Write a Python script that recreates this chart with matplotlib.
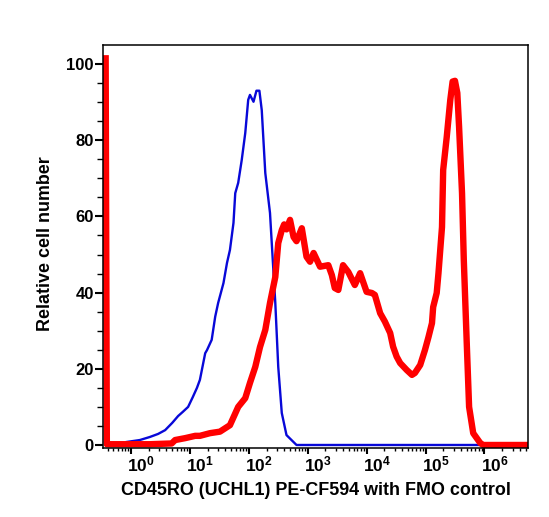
import numpy as np
import matplotlib
matplotlib.use("Agg")
import matplotlib.pyplot as plt
from matplotlib.ticker import LogLocator, FixedLocator, NullFormatter
from matplotlib.transforms import ScaledTranslation

plt.rcParams['font.family'] = ['Liberation Sans', 'DejaVu Sans']
plt.rcParams['font.weight'] = 'bold'
plt.rcParams['mathtext.fontset'] = 'custom'
plt.rcParams['mathtext.rm'] = 'Liberation Sans'
plt.rcParams['mathtext.bf'] = 'Liberation Sans:bold'

# FMO control (blue), log10 of fluorescence and relative cell number
fmo_log = [-0.07, 0.15, 0.32, 0.46, 0.58, 0.70, 0.80, 0.88, 0.97, 1.05, 1.12, 1.17,
           1.26, 1.29, 1.37, 1.43, 1.48, 1.57, 1.63, 1.68, 1.74, 1.77, 1.82, 1.88,
           1.94, 1.99, 2.02, 2.08, 2.13, 2.18, 2.22, 2.28, 2.36, 2.39, 2.45, 2.50,
           2.56, 2.64, 2.81, 6.80]
fmo_count = [0.8, 1.3, 2.1, 2.9, 3.9, 5.8, 7.6, 8.7, 10.0, 12.6, 15.0, 17.1,
             24.1, 24.9, 27.6, 33.7, 37.3, 42.5, 47.8, 51.2, 58.3, 66.1, 68.8, 74.8,
             81.9, 90.6, 91.9, 90.1, 93.0, 93.0, 87.9, 71.4, 60.9, 53.0, 37.3, 20.5,
             8.4, 2.6, 0.0, 0.0]

# CD45RO stained sample (red)
cd45_log = [-0.43, -0.41, 0.00, 0.32, 0.69, 0.75, 0.92, 1.09, 1.17, 1.34, 1.51, 1.68,
            1.82, 1.94, 2.02, 2.11, 2.19, 2.28, 2.36, 2.45, 2.50, 2.56, 2.60, 2.64,
            2.70, 2.76, 2.81, 2.90, 2.98, 3.04, 3.10, 3.21, 3.35, 3.41, 3.46, 3.52,
            3.60, 3.69, 3.80, 3.89, 4.00, 4.09, 4.14, 4.23, 4.31, 4.40, 4.45, 4.51,
            4.57, 4.68, 4.77, 4.82, 4.91, 4.99, 5.05, 5.11, 5.13, 5.19, 5.22, 5.28,
            5.30, 5.36, 5.42, 5.46, 5.50, 5.54, 5.57, 5.62, 5.65, 5.70, 5.74, 5.81,
            5.93, 5.98, 6.80]
cd45_count = [101.5, 0.2, 0.2, 0.2, 0.4, 1.3, 1.8, 2.4, 2.4, 3.1, 3.5, 5.2,
              10.0, 12.3, 16.3, 20.5, 25.7, 30.2, 37.3, 44.1, 53.0, 56.4, 57.9, 56.6,
              59.1, 54.6, 53.5, 56.9, 49.4, 48.1, 50.4, 46.8, 47.2, 44.6, 41.2, 40.7,
              47.2, 45.4, 42.0, 45.1, 40.2, 39.9, 39.4, 34.6, 32.4, 29.4, 25.8, 23.2,
              21.5, 19.7, 18.4, 18.9, 21.0, 24.9, 28.3, 32.0, 36.2, 39.9, 45.1, 57.2,
              72.2, 80.8, 90.5, 95.4, 95.6, 92.4, 83.5, 66.1, 48.6, 26.8, 10.0, 3.1,
              0.5, 0.0, 0.0]

decades = [0, 1, 2, 3, 4, 5, 6]
y_major = [0, 20, 40, 60, 80, 100]

fig = plt.figure(figsize=(5.49, 5.17), dpi=100)
ax = fig.add_axes([103.3 / 549, 1 - 447.5 / 517, (528 - 103.3) / 549, (447.5 - 45) / 517])

ax.plot(10 ** np.array(fmo_log), fmo_count, color='#0808d8', lw=1.7)
ax.plot(10 ** np.array(cd45_log), cd45_count, color='#ff0000', lw=4.6,
        solid_joinstyle='round')

ax.set_xscale('log')
ax.set_xlim(10 ** -0.47, 10 ** 6.74)
ax.set_ylim(-0.66, 105)

ax.xaxis.set_major_locator(FixedLocator([10.0 ** d for d in decades]))
ax.set_xticklabels([r'$\mathbf{10^{%d}}$' % d for d in decades])
ax.xaxis.set_minor_locator(LogLocator(base=10, subs=np.arange(2, 10), numticks=20))
ax.xaxis.set_minor_formatter(NullFormatter())
ax.set_yticks(y_major)
ax.set_yticks(np.arange(0, 105, 5), minor=True)

ax.tick_params(axis='x', which='major', length=4.2, width=1.5, pad=1, labelsize=12.5)
ax.tick_params(axis='x', which='minor', length=2.4, width=1.0)
ax.tick_params(axis='y', which='major', length=5.8, width=1.5, pad=1, labelsize=12)
ax.tick_params(axis='y', which='minor', length=4.0, width=1.0)

for lab in ax.get_xticklabels():
    lab.set_horizontalalignment('left')
    lab.set_transform(lab.get_transform() + ScaledTranslation(-3.5 / 100, 0, fig.dpi_scale_trans))

for sp in ax.spines.values():
    sp.set_linewidth(1.1)

ax.set_xlabel('CD45RO (UCHL1) PE-CF594 with FMO control', fontsize=12.9,
              fontweight='bold', va='center')
ax.xaxis.set_label_coords(0.5, -0.106)
ax.set_ylabel('Relative cell number', fontsize=12.9, fontweight='bold', va='center')
ax.yaxis.set_label_coords(-0.137, 0.506)

fig.savefig('out.png', dpi=100)
